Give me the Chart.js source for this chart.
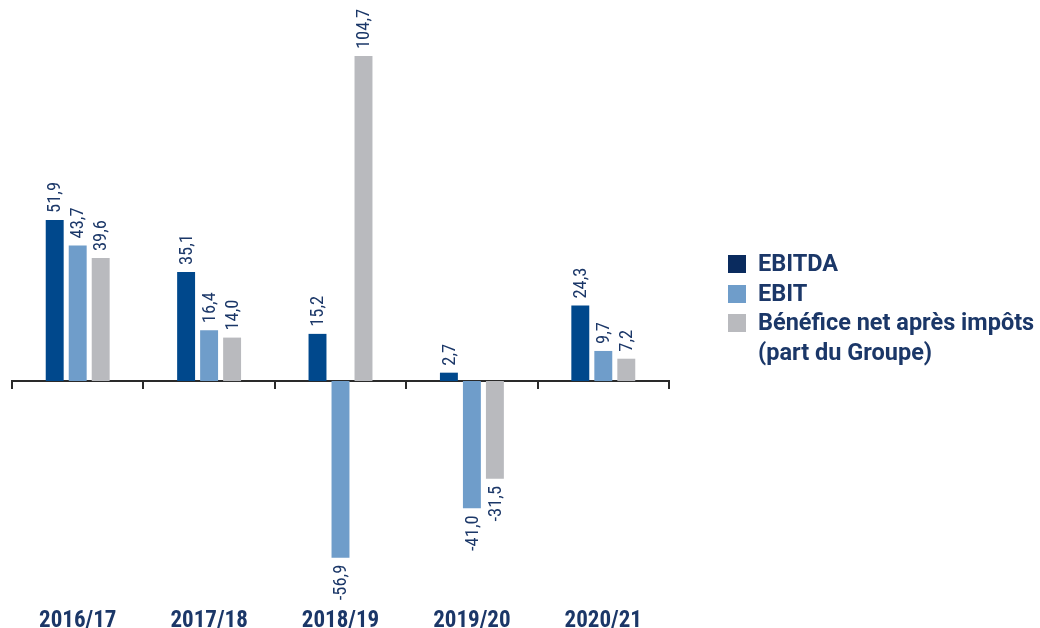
<!DOCTYPE html>
<html>
<head>
<meta charset="utf-8">
<script src="https://cdn.jsdelivr.net/npm/chart.js@4/dist/chart.umd.min.js"></script>
<style>
  html, body { margin: 0; padding: 0; background: #ffffff; overflow: hidden; }
  #wrap { position: relative; width: 1040px; height: 628px; }
  #c { position: absolute; left: 0; top: 0; }
  #legend { position: absolute; left: 728px; top: 249px; font-family: Roboto, "Liberation Sans", sans-serif; font-weight: bold; font-size: 23.5px; color: #1b3768; }
  .item { position: relative; padding-left: 30px; line-height: 29.5px; }
  .sw { position: absolute; left: 0; top: 6px; width: 18px; height: 18px; }
</style>
</head>
<body>
<div id="wrap">
  <canvas id="c" width="1040" height="628"></canvas>
  <div id="legend"></div>
</div>
<script>
const categories = ["2016/17", "2017/18", "2018/19", "2019/20", "2020/21"];
const seriesNames = ["EBITDA", "EBIT", ["Bénéfice net après impôts", "(part du Groupe)"]];
const ebitda = [51.9, 35.1, 15.2, 2.7, 24.3];
const ebit = [43.7, 16.4, -56.9, -41.0, 9.7];
const beneficeNet = [39.6, 14.0, 104.7, -31.5, 7.2];

const barColors = ["#00488c", "#6f9dca", "#b9babe"];
const legendColors = ["#0a2b5e", "#6f9dca", "#b9babe"];
const textColor = "#1b3768";
const condFont = '"Roboto Condensed", Roboto, "DejaVu Sans Condensed", sans-serif';

const labelPlugin = {
  id: 'valueLabels',
  afterDatasetsDraw(chart) {
    const ctx = chart.ctx;
    ctx.save();
    ctx.fillStyle = textColor;
    ctx.font = '18.5px ' + condFont;
    ctx.textBaseline = 'middle';
    chart.data.datasets.forEach((ds, di) => {
      const meta = chart.getDatasetMeta(di);
      meta.data.forEach((bar, i) => {
        const v = ds.data[i];
        const txt = v.toFixed(1).replace('.', ',');
        ctx.save();
        if (v >= 0) {
          ctx.translate(bar.x + 1, bar.y - 7);
          ctx.rotate(-Math.PI / 2);
          ctx.textAlign = 'left';
        } else {
          ctx.translate(bar.x + 1, bar.y + 7);
          ctx.rotate(-Math.PI / 2);
          ctx.textAlign = 'right';
        }
        ctx.fillText(txt, 0, 0);
        ctx.restore();
      });
    });
    ctx.restore();
  }
};

new Chart(document.getElementById('c'), {
  type: 'bar',
  data: {
    labels: categories,
    datasets: [
      { label: "EBITDA", data: ebitda, backgroundColor: barColors[0] },
      { label: "EBIT", data: ebit, backgroundColor: barColors[1] },
      { label: "Bénéfice net après impôts (part du Groupe)", data: beneficeNet, backgroundColor: barColors[2] }
    ]
  },
  options: {
    responsive: false,
    animation: false,
    devicePixelRatio: 1,
    layout: { padding: { left: 12, right: 371, top: 20, bottom: 0 } },
    datasets: { bar: { categoryPercentage: 0.525, barPercentage: 0.78 } },
    plugins: { legend: { display: false }, tooltip: { enabled: false } },
    scales: {
      x: {
        position: 'bottom',
        grid: { display: false, drawTicks: false },
        border: { display: false },
        afterFit(scale) { scale.height = 29; },
        ticks: {
          padding: 8,
          color: textColor,
          font: { family: condFont, size: 23, weight: 'bold' }
        }
      },
      x2: {
        type: 'category',
        labels: categories,
        position: { y: 0 },
        offset: true,
        grid: { display: true, offset: true, drawOnChartArea: false, drawTicks: true, tickLength: 7, color: '#2a2a2a', lineWidth: 2 },
        border: { display: true, color: '#2a2a2a', width: 2 },
        ticks: { display: false }
      },
      y: {
        display: false,
        min: -70.2,
        max: 116.3
      }
    }
  },
  plugins: [labelPlugin]
});

const legend = document.getElementById('legend');
seriesNames.forEach((name, i) => {
  const d = document.createElement('div');
  d.className = 'item';
  const sw = document.createElement('span');
  sw.className = 'sw';
  sw.style.background = legendColors[i];
  d.appendChild(sw);
  const lines = Array.isArray(name) ? name : [name];
  lines.forEach((ln) => {
    const s = document.createElement('div');
    s.textContent = ln;
    d.appendChild(s);
  });
  legend.appendChild(d);
});
</script>
</body>
</html>
